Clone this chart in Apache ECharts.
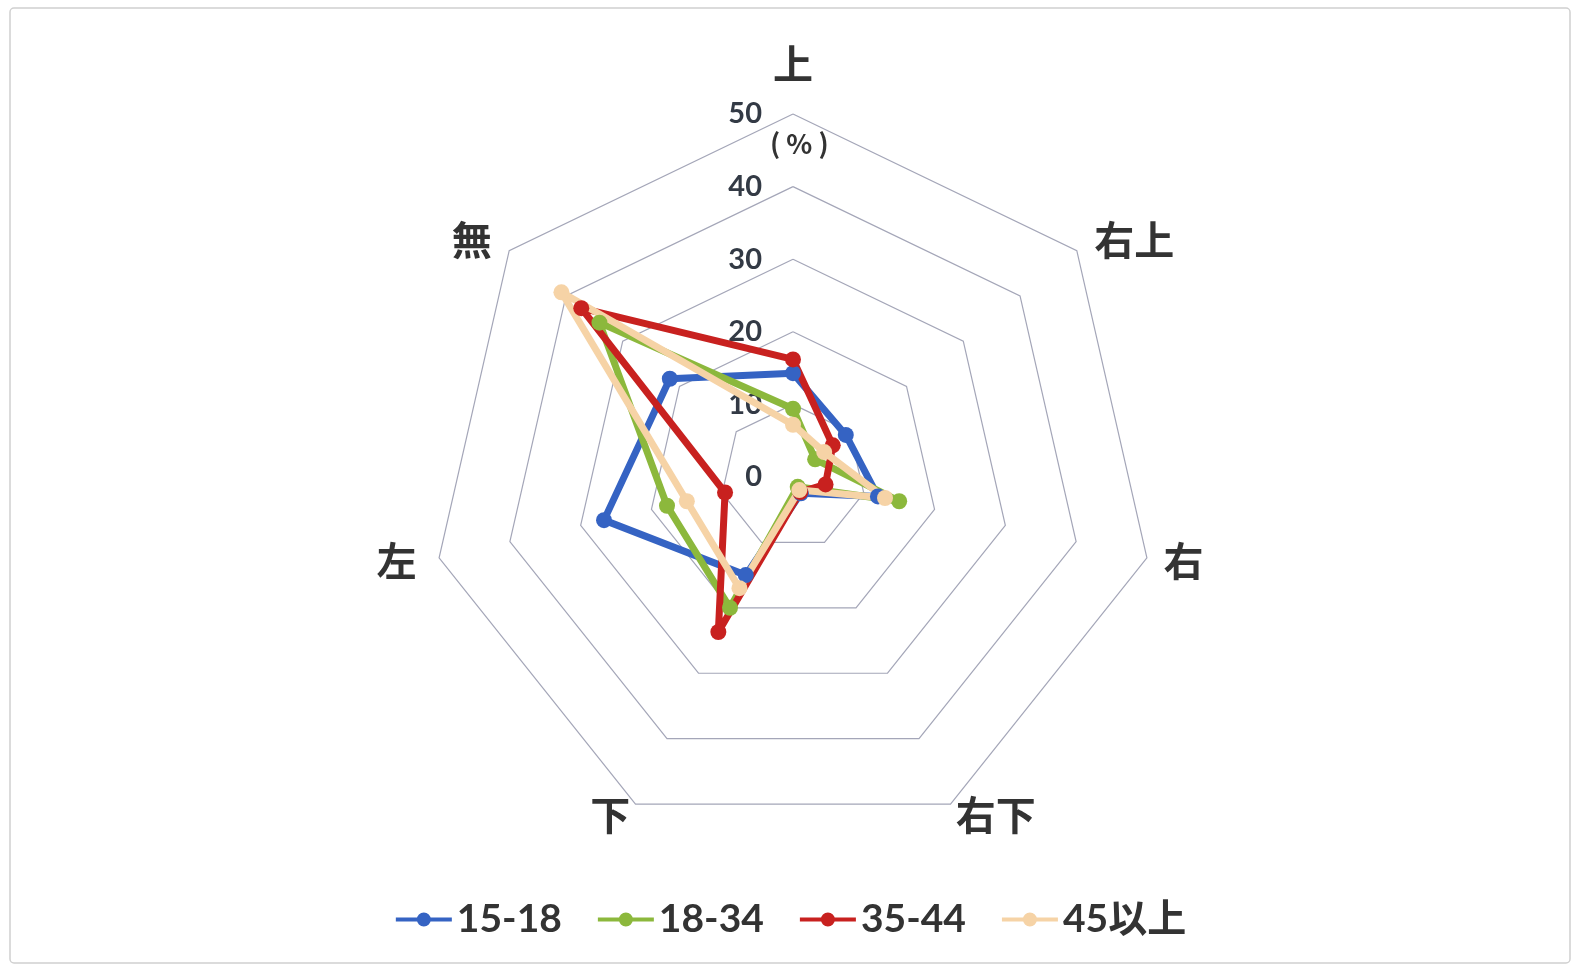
<!DOCTYPE html>
<html>
<head>
<meta charset="utf-8">
<script src="https://cdn.jsdelivr.net/npm/echarts@6/dist/echarts.min.js"></script>
<style>
  html, body { margin: 0; padding: 0; background: #fff; }
  #chart { width: 1582px; height: 972px; }
</style>
</head>
<body>
<div id="chart"></div>
<script>
// 軸（反時計回りに並べる: 上 → 無 → 左 → 下 → 右下 → 右 → 右上）
const directions = ['上', '無', '左', '下', '右下', '右', '右上'];
const seriesNames = ['15-18', '18-34', '35-44', '45以上'];
const ticks = [0, 10, 20, 30, 40, 50];

// 各年齢層の値（%）
const age15to18 = [14.3, 21.7, 26.7, 15, 2.5, 12, 9.3];
const age18to34 = [9.4, 34.1, 17.8, 20, 1.5, 15, 3.9];
const age35to44 = [16.2, 37.3, 9.6, 23.7, 2.3, 4.6, 7];
const age45plus = [7.2, 40.8, 15, 17, 2, 13, 5.5];

const colors = ['#3563c3', '#8cb83c', '#c8211f', '#f6d3a6'];
const values = [age15to18, age18to34, age35to44, age45plus];
const font = "Lato, 'Noto Sans CJK JP', sans-serif";

// 名前ラベルの位置微調整用
const nameStyle = {
  color: '#333',
  fontSize: 40,
  fontWeight: 'bold',
  fontFamily: "'Noto Sans CJK JP'"
};
const nameRich = {
  top: Object.assign({ padding: [0, 0, 18, 0] }, nameStyle),
  tl: Object.assign({ padding: [0, 8, 6, 0] }, nameStyle),
  tr: Object.assign({ padding: [0, 0, 6, 8] }, nameStyle),
  l: Object.assign({ padding: [0, 11, 0, 0] }, nameStyle),
  r: Object.assign({ padding: [0, 0, 0, 5] }, nameStyle),
  b: nameStyle
};
const nameKey = { '上': 'top', '無': 'tl', '右上': 'tr', '左': 'l', '右': 'r', '下': 'b', '右下': 'b' };

// 凡例アイコン（線＋丸）
const legendIcon = 'path://M0,5 H56 V9 H0 Z M35,7 A7,7 0 1,1 21,7 A7,7 0 1,1 35,7 Z';

const chart = echarts.init(document.getElementById('chart'));

const option = {
  backgroundColor: '#fff',
  color: colors,
  textStyle: { fontFamily: font },
  graphic: [
    {
      type: 'rect',
      shape: { x: 10, y: 8, width: 1560, height: 955, r: 4 },
      style: { fill: 'none', stroke: '#d0d0d0', lineWidth: 1.5 }
    },
    {
      type: 'text',
      left: 770,
      top: 130,
      style: {
        text: '( % )',
        fontSize: 27,
        fontWeight: 'bold',
        fontFamily: "'Noto Sans CJK JP'",
        fill: '#333'
      }
    }
  ],
  legend: {
    data: seriesNames.map((n) => ({ name: n, icon: legendIcon })),
    bottom: 28,
    left: 'center',
    itemGap: 36,
    itemWidth: 56,
    itemHeight: 14,
    textStyle: { fontSize: 39, fontWeight: 'bold', color: '#333', fontFamily: font }
  },
  radar: {
    center: [793, 477],
    radius: 363,
    shape: 'polygon',
    splitNumber: 5,
    startAngle: 90,
    axisName: {
      formatter: (name) => '{' + nameKey[name] + '|' + name + '}',
      rich: nameRich
    },
    nameGap: 12,
    indicator: directions.map((d, i) => ({
      name: d,
      min: 0,
      max: 50,
      axisLabel: i === 0 ? {
        show: true,
        color: '#333a45',
        fontSize: 29,
        fontWeight: 'bold',
        margin: 31,
        formatter: (v) => ticks.includes(v) ? String(v) : ''
      } : { show: false }
    })),
    axisLine: { show: false },
    axisTick: { show: false },
    splitLine: { lineStyle: { color: '#a4a6b8', width: 1.2 } },
    splitArea: { show: false }
  },
  series: [
    {
      type: 'radar',
      symbol: 'circle',
      symbolSize: 16,
      lineStyle: { width: 7 },
      data: seriesNames.map((name, i) => ({
        name: name,
        value: values[i],
        itemStyle: { color: colors[i] },
        lineStyle: { color: colors[i], width: 7 }
      }))
    }
  ]
};

chart.setOption(option);
</script>
</body>
</html>
